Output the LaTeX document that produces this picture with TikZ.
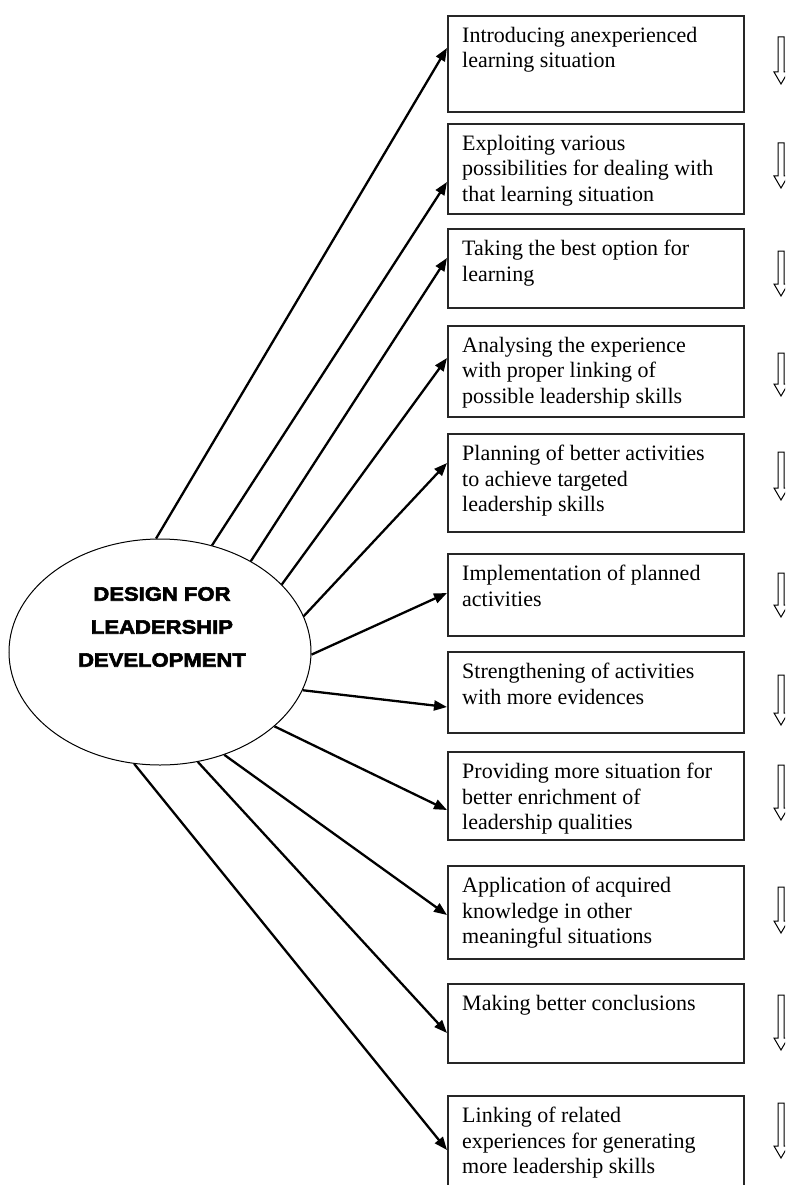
\documentclass[tikz,border=0pt]{standalone}
\usepackage{fontspec}
\setmainfont{Liberation Serif}
\newfontfamily\heavyfont[FakeBold=3,FakeStretch=1.13]{Liberation Sans}
\usetikzlibrary{arrows.meta,shapes.geometric}
\begin{document}
\begin{tikzpicture}[x=1pt,y=-1pt,
  box/.style={draw=black!85, line width=1.8pt, minimum width=296pt, anchor=north west, inner sep=0pt},
  boxtext/.style={anchor=north west, inner sep=0pt, align=left, font=\fontsize{22}{25.5}\selectfont},
  conn/.style={line width=2.3pt, -{Triangle[length=13pt,width=10pt]}},
  hollow/.style={draw=black, line width=1pt, fill=white},
  oval/.style={draw=black, ellipse, line width=1pt, minimum width=302pt, minimum height=226pt, inner sep=0pt}
]
\useasboundingbox (0,0) rectangle (785,1185);
\clip (0,0) rectangle (785,1185);

% central ellipse
\node[oval] (E) at (160,652) {};
\node[font=\heavyfont\bfseries\fontsize{19.5}{33}\selectfont, align=center, inner sep=0pt] (Et) at (162,627) {DESIGN FOR\\LEADERSHIP\\DEVELOPMENT};

% boxes
\node[box, minimum height=96pt] (b1) at (447,15) {};
\node[box, minimum height=90pt] (b2) at (447,123) {};
\node[box, minimum height=79pt] (b3) at (447,228) {};
\node[box, minimum height=91pt] (b4) at (447,325) {};
\node[box, minimum height=98pt] (b5) at (447,433) {};
\node[box, minimum height=82pt] (b6) at (447,553) {};
\node[box, minimum height=81pt] (b7) at (447,651) {};
\node[box, minimum height=88pt] (b8) at (447,751) {};
\node[box, minimum height=93pt] (b9) at (447,865) {};
\node[box, minimum height=79pt] (b10) at (447,983) {};
\node[box, minimum height=110pt] (b11) at (447,1095) {};

% box texts
\node[boxtext] (t1) at (462,27) {Introducing anexperienced\\learning situation};
\node[boxtext] (t2) at (462,135) {Exploiting various\\possibilities for dealing with\\that learning situation};
\node[boxtext] (t3) at (462,240) {Taking the best option for\\learning};
\node[boxtext] (t4) at (462,337) {Analysing the experience\\with proper linking of\\possible leadership skills};
\node[boxtext] (t5) at (462,445) {Planning of better activities\\to achieve targeted\\leadership skills};
\node[boxtext] (t6) at (462,565) {Implementation of planned\\activities};
\node[boxtext] (t7) at (462,663) {Strengthening of activities\\with more evidences};
\node[boxtext] (t8) at (462,763) {Providing more situation for\\better enrichment of\\leadership qualities};
\node[boxtext] (t9) at (462,877) {Application of acquired\\knowledge in other\\meaningful situations};
\node[boxtext] (t10) at (462,995) {Making better conclusions};
\node[boxtext] (t11) at (462,1107) {Linking of related\\experiences for generating\\more leadership skills};

% connectors
\draw[conn] (E.92.5) -- (b1.west |- 0,48);
\draw[conn] (E.64.1) -- (b2.west |- 0,182);
\draw[conn] (E.45.9) -- (b3.west |- 0,258);
\draw[conn] (E.29.6) -- (b4.west |- 0,358);
\draw[conn] (E.14.5) -- (b5.west |- 0,463);
\draw[conn] (E.-1.9) -- (b6.west |- 0,593);
\draw[conn] (E.-15) -- (b7.west |- 0,707);
\draw[conn] (E.-33.2) -- (b8.west |- 0,810);
\draw[conn] (E.-58.8) -- (b9.west |- 0,915);
\draw[conn] (E.-71.6) -- (b10.west |- 0,1033);
\draw[conn] (E.-103.6) -- (b11.west |- 0,1150);

% hollow down arrows at the right edge
\foreach \t/\b in {37/84, 143/188, 251/296, 353/396, 452/500, 573/617, 675/725, 765/820, 887/933, 995/1050, 1103/1158}
  \draw[hollow] (778,\t) -- (784,\t) -- (784,\b-12) -- (788,\b-12) -- (781,\b) -- (774,\b-12) -- (778,\b-12) -- cycle;
\end{tikzpicture}
\end{document}
